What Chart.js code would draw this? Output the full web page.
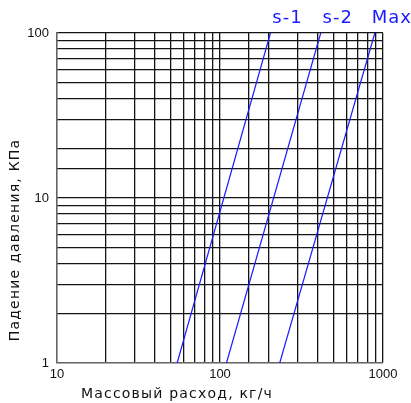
<!DOCTYPE html>
<html lang="ru">
<head>
    <meta charset="UTF-8">
    <title>Падение давления</title>
    <style>
        body { margin: 0; background: #fff; }
    </style>
    <script src="https://cdn.jsdelivr.net/npm/chart.js"></script>
</head>
<body>
    <canvas id="dpChart" width="411" height="403"></canvas>
    <script>
        // pressure drop range (kPa) and mass flow at each end (kg/h)
        const pressure = [1, 100];
        const flowS1 = [54.6, 204];
        const flowS2 = [109.6, 415];
        const flowMax = [232.5, 891];
        const seriesNames = ['s-1', 's-2', 'Max'];
        const xTickLabels = [10, 100, 1000];
        const yTickLabels = [1, 10, 100];

        const blue = '#1a1aff';
        const gridColor = '#141414';

        function toPoints(flows) {
            return flows.map((f, i) => ({ x: f, y: pressure[i] }));
        }

        const labelPlugin = {
            id: 'labels',
            afterDraw(chart) {
                const ctx = chart.ctx;
                ctx.save();
                // series names above the upper ends of the lines
                ctx.fillStyle = blue;
                ctx.font = '18px "DejaVu Sans"';
                ctx.textAlign = 'center';
                ctx.textBaseline = 'alphabetic';
                ctx.letterSpacing = '1px';
                chart.data.datasets.forEach((ds, i) => {
                    const pts = chart.getDatasetMeta(i).data;
                    const p = pts[pts.length - 1];
                    ctx.fillText(ds.label, p.x + 17, 23);
                });
                // axis titles
                ctx.fillStyle = '#111';
                ctx.font = '14px "DejaVu Sans"';
                ctx.letterSpacing = '1.2px';
                ctx.textBaseline = 'middle';
                ctx.fillText('Массовый расход, кг/ч', 177, 394);
                ctx.translate(15, 240);
                ctx.rotate(-Math.PI / 2);
                ctx.fillText('Падение давления, КПа', 0, 0);
                ctx.restore();
            }
        };

        new Chart(document.getElementById('dpChart'), {
            type: 'line',
            data: {
                datasets: [flowS1, flowS2, flowMax].map((f, i) => ({
                    label: seriesNames[i],
                    data: toPoints(f),
                    borderColor: blue,
                    borderWidth: 1.2,
                    pointRadius: 0,
                    fill: false
                }))
            },
            options: {
                responsive: false,
                animation: false,
                layout: { padding: { left: 0, top: 33, right: 28, bottom: 0 } },
                plugins: {
                    legend: { display: false },
                    tooltip: { enabled: false }
                },
                scales: {
                    x: {
                        type: 'logarithmic',
                        min: 10,
                        max: 1000,
                        afterFit(scale) { scale.height = 40; },
                        grid: { color: gridColor, lineWidth: 1.3, drawTicks: false },
                        border: { color: '#666', width: 1.3 },
                        ticks: {
                            autoSkip: false,
                            maxRotation: 0,
                            padding: 4,
                            color: '#111',
                            font: { family: '"Liberation Sans"', size: 13 },
                            callback: v => xTickLabels.includes(v) ? String(v) : ''
                        }
                    },
                    y: {
                        type: 'logarithmic',
                        min: 1,
                        max: 100,
                        afterFit(scale) { scale.width = 57; },
                        grid: { color: gridColor, lineWidth: 1.3, drawTicks: false },
                        border: { color: '#666', width: 1.3 },
                        ticks: {
                            autoSkip: false,
                            padding: 8,
                            color: '#111',
                            font: { family: '"Liberation Sans"', size: 13 },
                            callback: v => yTickLabels.includes(v) ? String(v) : ''
                        }
                    }
                }
            },
            plugins: [labelPlugin]
        });
    </script>
</body>
</html>
